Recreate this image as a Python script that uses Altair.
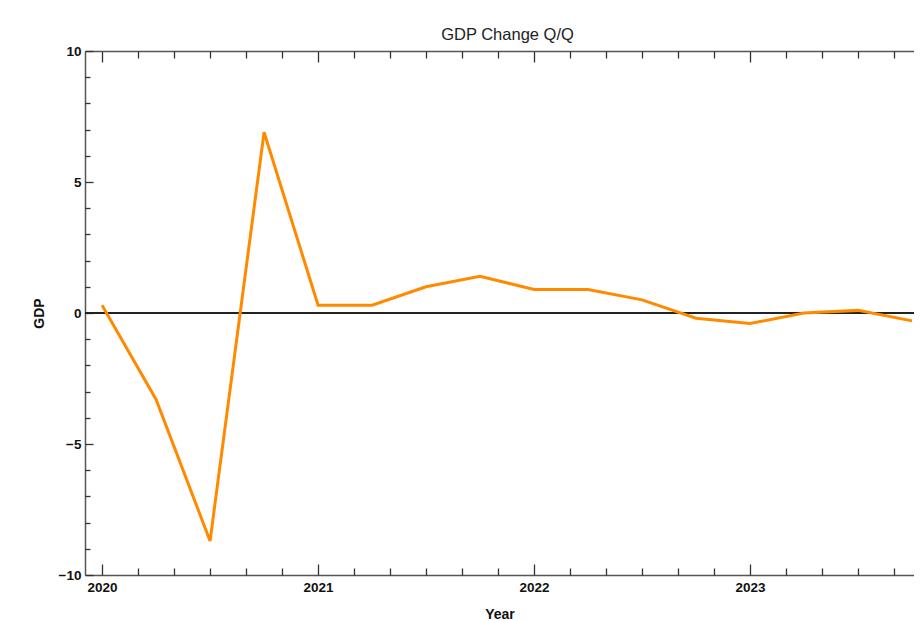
import altair as alt
import pandas as pd

# ---- data ----
quarters = [2020.0, 2020.25, 2020.5, 2020.75,
            2021.0, 2021.25, 2021.5, 2021.75,
            2022.0, 2022.25, 2022.5, 2022.75,
            2023.0, 2023.25, 2023.5, 2023.75]
gdp = [0.3, -3.3, -8.7, 6.9,
       0.3, 0.3, 1.0, 1.4,
       0.9, 0.9, 0.5, -0.2,
       -0.4, 0.0, 0.1, -0.3]

x_major = [2020, 2021, 2022, 2023]
x_minor = [2020 + i / 6 for i in range(1, 23) if i % 6 != 0]
y_major = [-10, -5, 0, 5, 10]
y_minor = [v for v in range(-9, 10) if v % 5 != 0]

x_domain = [2019.921, 2023.759]
y_domain = [-10, 10]

W, H = 829, 524
FONT = "Liberation Sans"
FRAME = "#555555"

df = pd.DataFrame({"Year": quarters, "GDP": gdp})
zero_df = pd.DataFrame({"GDP": [0]})

xs = alt.Scale(domain=x_domain, nice=False, zero=False)
ys = alt.Scale(domain=y_domain, nice=False, zero=False)

base = alt.Chart(df)


def hidden_x():
    return alt.X("Year:Q", scale=xs, axis=None)


def hidden_y():
    return alt.Y("GDP:Q", scale=ys, axis=None)


# main line with labelled axes
line = base.mark_line(color="#ff8a00", strokeWidth=3).encode(
    x=alt.X("Year:Q", scale=xs, axis=alt.Axis(
        orient="bottom", values=x_major, format="d", ticks=False, grid=False,
        domain=True, domainColor=FRAME, domainWidth=1.5,
        labelFont=FONT, labelFontSize=13.5, labelFontWeight="bold", labelColor="#111",
        labelPadding=5, title="Year", titleFont=FONT, titleFontSize=14,
        titleFontWeight="bold", titleColor="#111", titlePadding=14)),
    y=alt.Y("GDP:Q", scale=ys, axis=alt.Axis(
        orient="left", values=y_major, ticks=False, grid=False,
        domain=True, domainColor=FRAME, domainWidth=1.5,
        labelFont=FONT, labelFontSize=13.5, labelFontWeight="bold", labelColor="#111",
        labelPadding=4, title="GDP", titleFont=FONT, titleFontSize=14,
        titleFontWeight="bold", titleColor="#111", titlePadding=12)),
)

zero = alt.Chart(zero_df).mark_rule(color="#222222", strokeWidth=2).encode(
    y=alt.Y("GDP:Q", scale=ys, axis=None)
)


def x_ticks(orient, values, size, domain=False):
    return base.mark_line(opacity=0).encode(
        x=alt.X("Year:Q", scale=xs, axis=alt.Axis(
            orient=orient, offset=-H, values=values, labels=False, grid=False,
            ticks=True, tickSize=size, tickColor="#333333", tickWidth=1.3,
            domain=domain, domainColor=FRAME, domainWidth=1.5, title=None)),
        y=hidden_y(),
    )


def y_ticks(values, size):
    return base.mark_line(opacity=0).encode(
        x=hidden_x(),
        y=alt.Y("GDP:Q", scale=ys, axis=alt.Axis(
            orient="right", offset=-W, values=values, labels=False, grid=False,
            ticks=True, tickSize=size, tickColor="#333333", tickWidth=1.3,
            domain=False, title=None)),
    )


layers = [
    zero,
    line,
    x_ticks("bottom", x_major, 11, domain=True),   # top edge, ticks pointing down
    x_ticks("bottom", x_minor, 7),
    x_ticks("top", x_major, 11),                   # bottom edge, ticks pointing up
    x_ticks("top", x_minor, 7),
    y_ticks(y_major, 8),
    y_ticks(y_minor, 5),
]

chart = alt.layer(*layers).resolve_axis(
    x="independent", y="independent"
).properties(
    width=W, height=H,
    title=alt.TitleParams("GDP Change Q/Q", font=FONT, fontSize=16.5,
                          fontWeight="normal", color="#222", dx=8, offset=1),
    autosize=alt.AutoSizeParams(type="none"),
    padding={"left": 77, "top": 43, "right": 0, "bottom": 46},
).configure_view(stroke=None)

chart.save("out.html", embed_options={"renderer": "svg", "actions": False})
